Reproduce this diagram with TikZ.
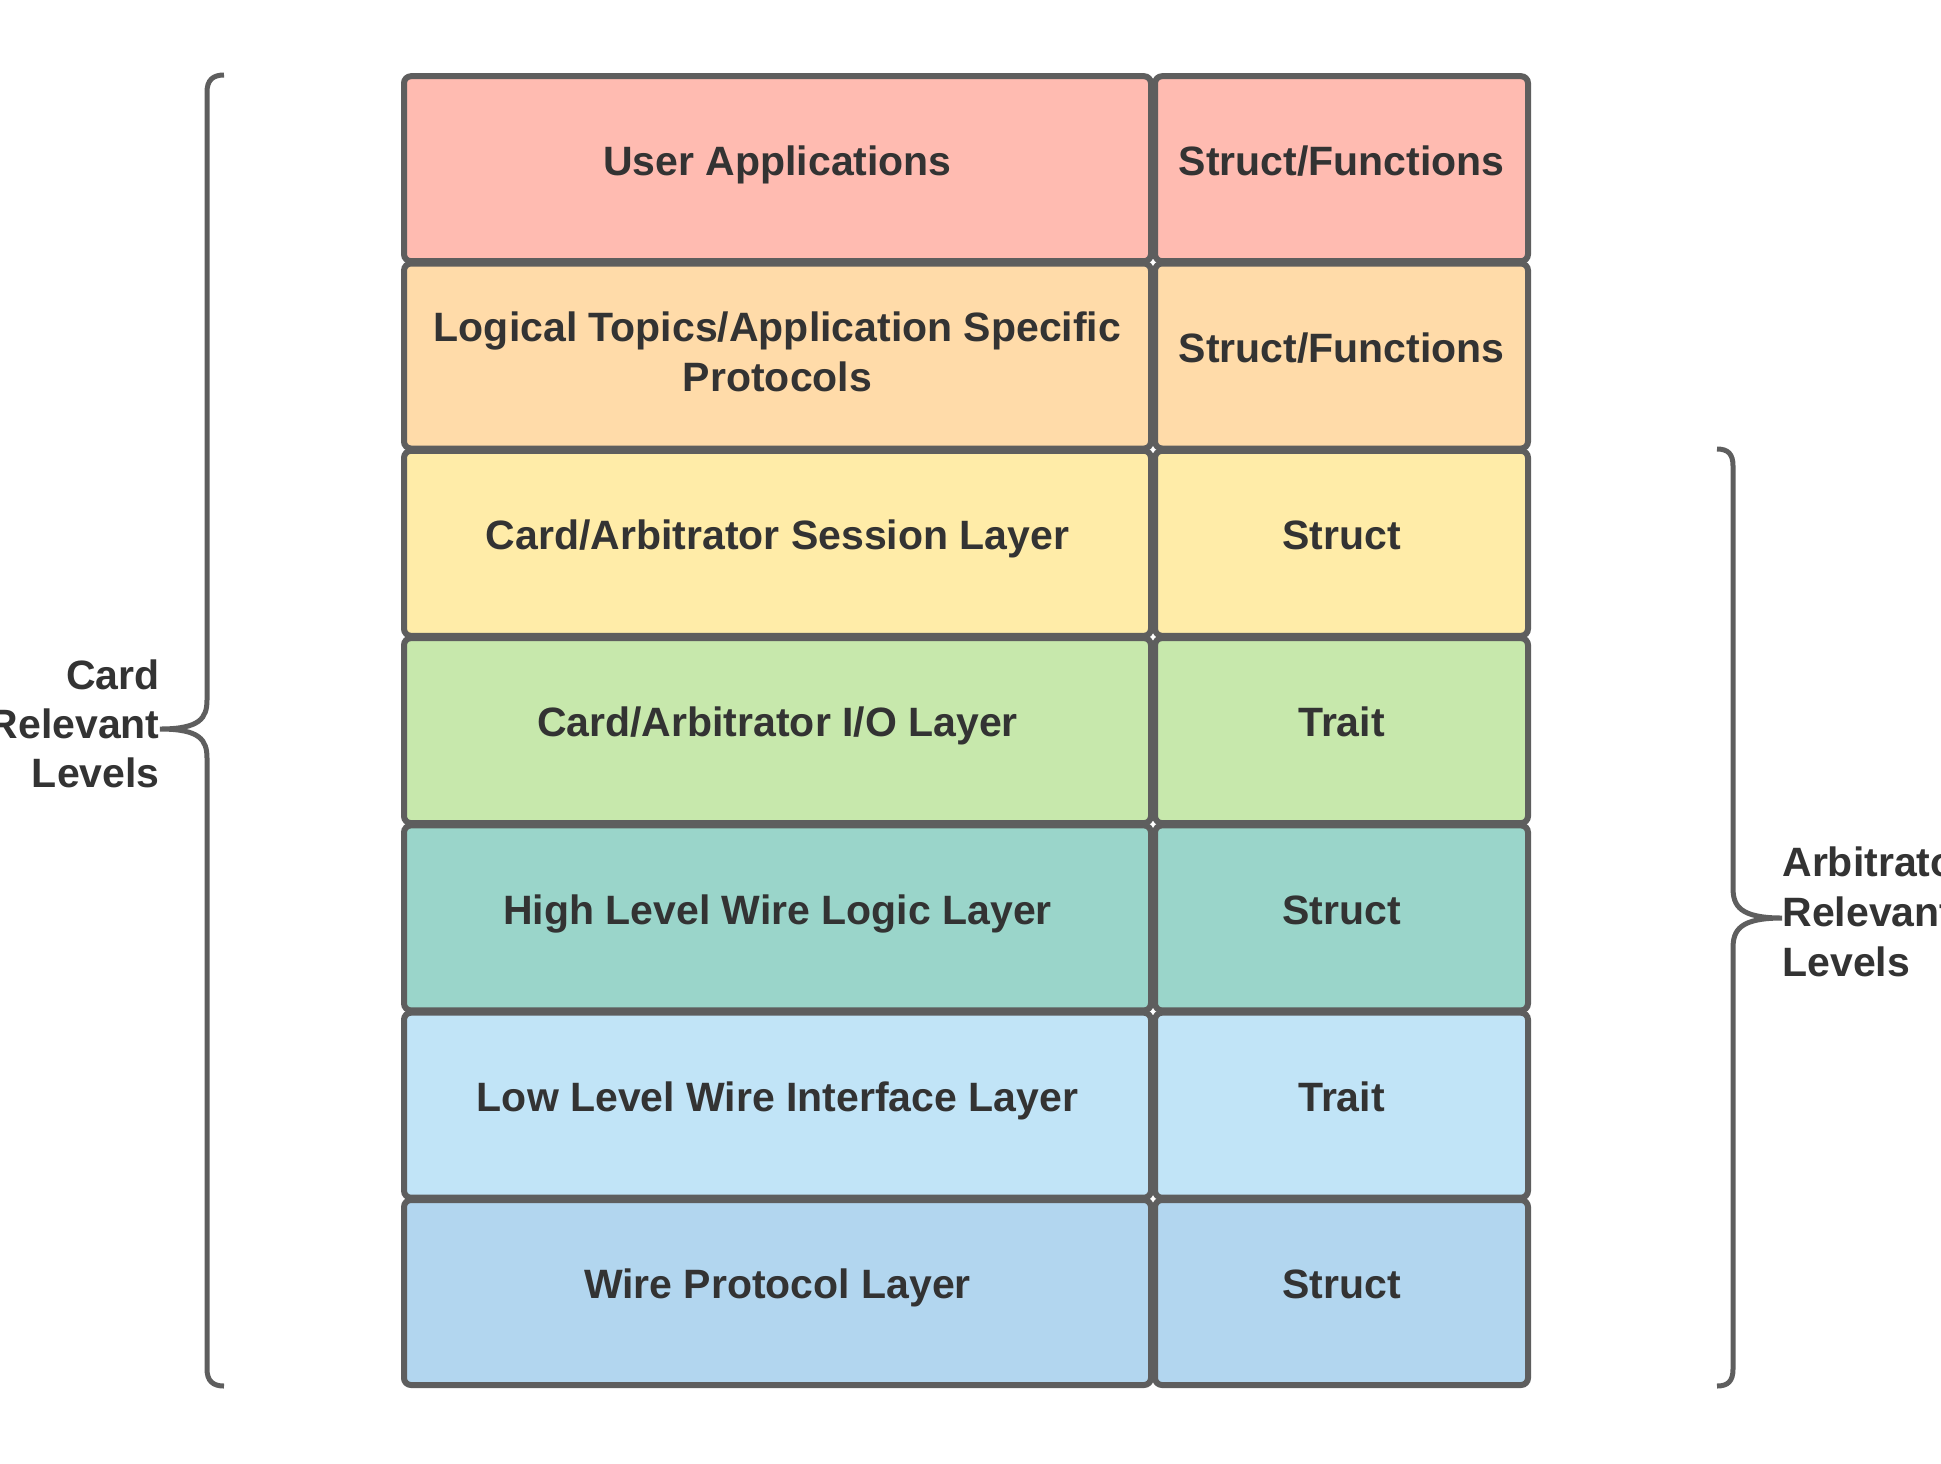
\documentclass[tikz,border=0pt]{standalone}
\usepackage{fontspec}
\setmainfont{Liberation Sans}
\usepackage{xcolor}
\usetikzlibrary{calc, positioning}

\definecolor{edgegray}{HTML}{5E5E5E}
\definecolor{textgray}{HTML}{333333}
\definecolor{userred}{HTML}{FFBBB1}
\definecolor{topicorange}{HTML}{FFDBA9}
\definecolor{sessionyellow}{HTML}{FFECA8}
\definecolor{iogreen}{HTML}{C7E8AC}
\definecolor{highteal}{HTML}{9AD5CA}
\definecolor{lowblue}{HTML}{C1E4F7}
\definecolor{wireblue}{HTML}{B2D6EF}

\begin{document}
\begin{tikzpicture}[x=0.5pt, y=-0.5pt,
        layer/.style={draw=edgegray, line width=3pt, rounded corners=3.5pt,
            minimum width=373.5pt, minimum height=92.5pt, inner sep=0pt,
            align=center, text=textgray, text height=12pt, text depth=5.7pt,
            font=\fontsize{20.5}{25}\selectfont\bfseries},
        kind/.style={layer, minimum width=186.5pt},
        bracelbl/.style={inner sep=0pt, text=textgray,
            font=\fontsize{20.5}{24.5}\selectfont\bfseries},
        brace/.style={draw=edgegray, line width=2.5pt}]
                        \useasboundingbox (0, 0) rectangle (1941, 1463);
                        % left column: layers
                        \node[layer, fill=userred] (app) at (777.5, 168.7) {User Applications};
                        \node[layer, fill=topicorange, text height={}, text depth={}] (topics) at (777.5, 356) {Logical Topics/Application Specific\\Protocols\rule[-4pt]{0pt}{4pt}};
                        \node[layer, fill=sessionyellow] (session) at (777.5, 543.3) {Card/Arbitrator Session Layer};
                        \node[layer, fill=iogreen] (io) at (777.5, 730.6) {Card/Arbitrator I/O Layer};
                        \node[layer, fill=highteal] (highwire) at (777.5, 917.9) {High Level Wire Logic Layer};
                        \node[layer, fill=lowblue] (lowwire) at (777.5, 1105.2) {Low Level Wire Interface Layer};
                        \node[layer, fill=wireblue] (proto) at (777.5, 1292.5) {Wire Protocol Layer};
                        % right column: kinds
                        \node[kind, fill=userred] (appkind) at (1341.5, 168.7) {Struct/Functions};
                        \node[kind, fill=topicorange] (topicskind) at (1341.5, 356) {Struct/Functions};
                        \node[kind, fill=sessionyellow] (sessionkind) at (1341.5, 543.3) {Struct};
                        \node[kind, fill=iogreen] (iokind) at (1341.5, 730.6) {Trait};
                        \node[kind, fill=highteal] (highwirekind) at (1341.5, 917.9) {Struct};
                        \node[kind, fill=lowblue] (lowwirekind) at (1341.5, 1105.2) {Trait};
                        \node[kind, fill=wireblue] (protokind) at (1341.5, 1292.5) {Struct};
                        % braces
                        \coordinate (cardtip) at (160, 729);
                        \coordinate (arbtip) at (1782, 918);
                        \node[bracelbl, anchor=east, align=right, yshift=2.8pt] (cardlbl) at (cardtip) {Card\\Relevant\\Levels};
                        \node[bracelbl, anchor=west, align=left, yshift=3.2pt,
                            font=\fontsize{20.5}{25}\selectfont\bfseries] (arblbl) at (arbtip) {Arbitrator\\Relevant\\Levels};
                        \draw[brace]
                        (224, 75) .. controls (213, 75) and (207, 80) .. (207, 92) -- (207, 700)
                        .. controls (207, 718) and (200, 729) .. (cardtip)
                        .. controls (200, 729) and (207, 740) .. (207, 758) -- (207, 1369)
                        .. controls (207, 1381) and (213, 1386) .. (224, 1386);
                        \draw[brace]
                        (1717, 449) .. controls (1728, 449) and (1733, 454) .. (1733, 466) -- (1733, 888)
                        .. controls (1733, 906) and (1740, 918) .. (arbtip)
                        .. controls (1740, 918) and (1733, 930) .. (1733, 948) -- (1733, 1369)
                        .. controls (1733, 1381) and (1728, 1386) .. (1717, 1386);
                    \end{tikzpicture}
\end{document}
